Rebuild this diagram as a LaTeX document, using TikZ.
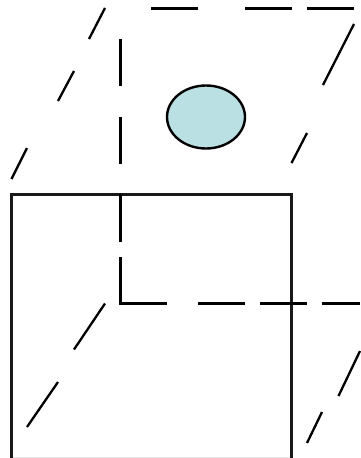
\documentclass[tikz,border=0pt]{standalone}
\definecolor{ballfill}{HTML}{BBE0E3}
\tikzset{
  dashseg/.style={black,line width=2.8pt},
  slantseg/.style={black,line width=2.3pt},
  frontface/.style={black!90,line width=2.5pt},
  ball/.style={draw=black,line width=2.4pt,fill=ballfill}
}
\begin{document}
\begin{tikzpicture}[x=1pt,y=-1pt]
\useasboundingbox (0,0) rectangle (360,458);
\fill[white] (0,0) rectangle (360,458);
% front face (its bottom edge falls on the picture border)
\draw[black!10,line width=1pt] (11.5,457.5) -- (291.5,457.5);
\draw[frontface] (11.5,458) -- (11.5,194.5) -- (291.5,194.5) -- (291.5,458);
% back face, top
\foreach \a/\b in {151/198,245/292,307/354} \draw[dashseg] (\a,8.3) -- (\b,8.3);
% back face, vertical
\foreach \a/\b in {39/86,117/164,194/242,257/304} \draw[dashseg] (120.5,\a) -- (120.5,\b);
% back face, horizontal
\foreach \a/\b in {119.3/167,198/245,260/307,322/360} \draw[dashseg] (\a,303.3) -- (\b,303.3);
% slanted edges
\foreach \p/\q in {{(105,8)/(89,39)},{(74,71)/(58,101)},{(27,148)/(11.5,179)},
  {(354,24)/(323,85)},{(307,133)/(291.5,163)},
  {(105,303.5)/(74,349.5)},{(58,382)/(27,427)},
  {(360,351)/(338.5,396)},{(322,412)/(307,443)}}
  \draw[slantseg] \p -- \q;
% ball
\draw[ball] (206,117) ellipse [x radius=39,y radius=31.5];
\end{tikzpicture}
\end{document}
